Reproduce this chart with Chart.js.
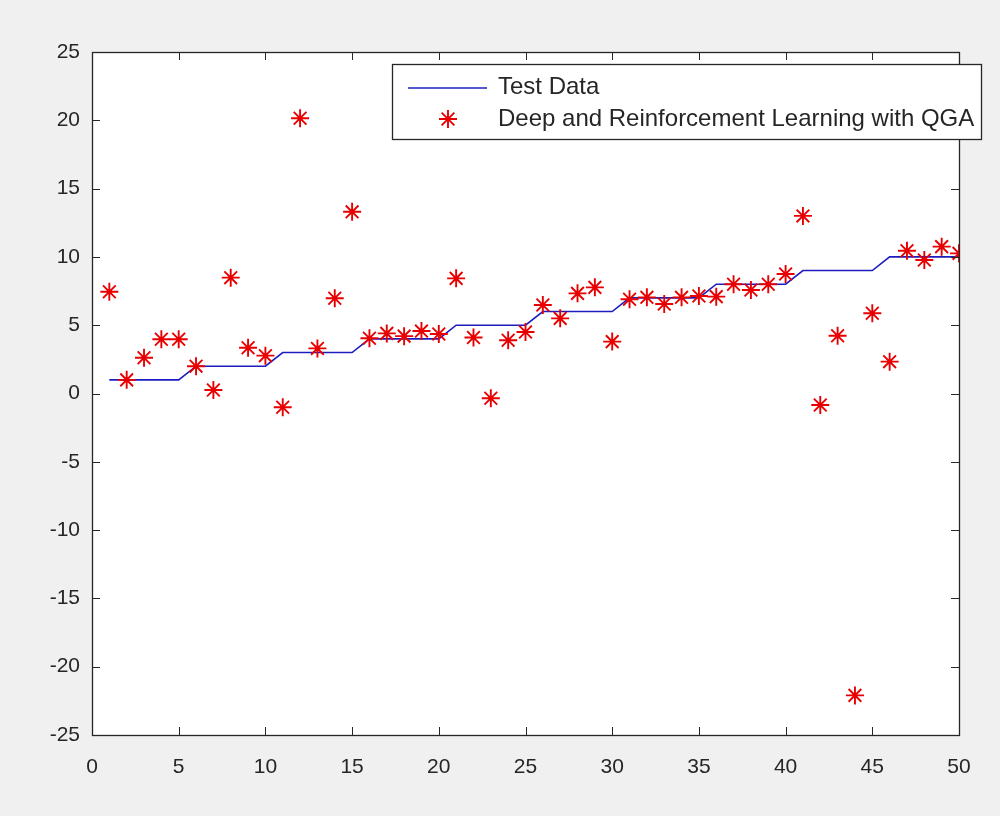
<!DOCTYPE html>
<html>
<head>
<meta charset="utf-8">
<script src="https://cdn.jsdelivr.net/npm/chart.js@4"></script>
<style>
  html, body { margin: 0; padding: 0; background: #f0f0f0; }
  #wrap { width: 1000px; height: 816px; position: relative; }
</style>
</head>
<body>
<div id="wrap"><canvas id="c" width="1000" height="816"></canvas></div>
<script>
// ---- data ----
const xValues = [1,2,3,4,5,6,7,8,9,10,11,12,13,14,15,16,17,18,19,20,21,22,23,24,25,26,27,28,29,30,31,32,33,34,35,36,37,38,39,40,41,42,43,44,45,46,47,48,49,50];
const testData = [1,1,1,1,1,2,2,2,2,2,3,3,3,3,3,4,4,4,4,4,5,5,5,5,5,6,6,6,6,6,7,7,7,7,7,8,8,8,8,8,9,9,9,9,9,10,10,10,10,10];
const predicted = [7.45,1.0,2.62,3.97,3.97,2.0,0.26,8.48,3.35,2.77,-1.01,20.15,3.3,6.97,13.3,4.04,4.4,4.2,4.57,4.36,8.43,4.1,-0.35,3.9,4.5,6.48,5.5,7.33,7.77,3.8,6.9,7.04,6.55,7.04,7.14,7.09,8.0,7.58,8.0,8.75,13.0,-0.84,4.23,-22.1,5.87,2.33,10.45,9.77,10.75,10.26];
const seriesLabels = ['Test Data', 'Deep and Reinforcement Learning with QGA'];
const xTicks = [0,5,10,15,20,25,30,35,40,45,50];
const yTicks = [-25,-20,-15,-10,-5,0,5,10,15,20,25];

const AXIS = '#262626';
const FONT = '"Liberation Sans", Arial, sans-serif';

const framePlugin = {
  id: 'frame',
  beforeDraw(chart) {
    const {ctx, chartArea: a} = chart;
    ctx.save();
    ctx.fillStyle = '#ffffff';
    ctx.fillRect(a.left, a.top, a.right - a.left, a.bottom - a.top);
    ctx.restore();
  },
  afterDatasetsDraw(chart) {
    const {ctx, chartArea: a, scales} = chart;
    const tl = 8;
    ctx.save();
    ctx.strokeStyle = AXIS;
    ctx.lineWidth = 1;
    ctx.beginPath();
    xTicks.forEach(v => {
      const px = Math.round(scales.x.getPixelForValue(v)) + 0.5;
      ctx.moveTo(px, a.bottom); ctx.lineTo(px, a.bottom - tl);
      ctx.moveTo(px, a.top); ctx.lineTo(px, a.top + tl);
    });
    yTicks.forEach(v => {
      const py = Math.round(scales.y.getPixelForValue(v)) + 0.5;
      ctx.moveTo(a.left, py); ctx.lineTo(a.left + tl, py);
      ctx.moveTo(a.right, py); ctx.lineTo(a.right - tl, py);
    });
    ctx.stroke();
    ctx.lineWidth = 1.3;
    ctx.strokeRect(Math.round(a.left) + 0.5, Math.round(a.top) + 0.5, Math.round(a.right - a.left), Math.round(a.bottom - a.top));
    ctx.restore();
  },
  afterDraw(chart) {
    // legend box (MATLAB style, top-right)
    const {ctx} = chart;
    const ds = chart.data.datasets;
    const bx = 392, by = 64, bw = 589, bh = 75;
    ctx.save();
    ctx.fillStyle = '#ffffff';
    ctx.fillRect(bx, by, bw, bh);
    ctx.strokeStyle = AXIS;
    ctx.lineWidth = 1.3;
    ctx.strokeRect(bx + 0.5, by + 0.5, bw, bh);
    // line sample
    ctx.strokeStyle = ds[0].borderColor;
    ctx.lineWidth = ds[0].borderWidth;
    ctx.beginPath();
    ctx.moveTo(408, 88); ctx.lineTo(487, 88);
    ctx.stroke();
    // star sample
    ctx.strokeStyle = ds[1].pointBorderColor;
    ctx.fillStyle = ds[1].pointBackgroundColor;
    ctx.lineWidth = ds[1].pointBorderWidth;
    Chart.helpers.drawPoint(ctx, {pointStyle: 'star', radius: ds[1].pointRadius, borderWidth: ds[1].pointBorderWidth, rotation: 0}, 448, 119);
    ctx.fillStyle = AXIS;
    ctx.font = '24px ' + FONT;
    ctx.textBaseline = 'middle';
    ctx.fillText(ds[0].label, 498, 87);
    ctx.fillText(ds[1].label, 498, 119);
    ctx.restore();
  }
};

new Chart(document.getElementById('c'), {
  type: 'scatter',
  data: {
    datasets: [
      {
        label: seriesLabels[0],
        data: xValues.map((x, i) => ({x, y: testData[i]})),
        showLine: true,
        borderColor: '#1c1cc0',
        borderWidth: 1.6,
        pointRadius: 0,
        order: 2
      },
      {
        label: seriesLabels[1],
        data: xValues.map((x, i) => ({x, y: predicted[i]})),
        showLine: false,
        pointStyle: 'star',
        pointRadius: 9,
        pointBorderWidth: 1.9,
        pointBorderColor: '#e80000',
        pointBackgroundColor: '#e80000',
        borderColor: '#e80000',
        order: 1
      }
    ]
  },
  options: {
    responsive: false,
    animation: false,
    layout: { padding: { left: 0, top: 52, right: 41, bottom: 0 } },
    plugins: { legend: { display: false }, tooltip: { enabled: false } },
    scales: {
      x: {
        type: 'linear', min: 0, max: 50,
        afterFit(s) { s.height = 81; },
        afterBuildTicks(s) { s.ticks = xTicks.map(v => ({value: v})); },
        grid: { display: false, drawTicks: false },
        border: { display: false },
        ticks: { color: AXIS, font: { family: FONT, size: 21 }, padding: 20, maxRotation: 0, autoSkip: false,
                 callback: v => String(v) }
      },
      y: {
        type: 'linear', min: -25, max: 25,
        afterFit(s) { s.width = 92; },
        afterBuildTicks(s) { s.ticks = yTicks.map(v => ({value: v})); },
        grid: { display: false, drawTicks: false },
        border: { display: false },
        ticks: { color: AXIS, font: { family: FONT, size: 21 }, padding: 12, autoSkip: false,
                 callback: v => String(v) }
      }
    }
  },
  plugins: [framePlugin]
});
</script>
</body>
</html>
